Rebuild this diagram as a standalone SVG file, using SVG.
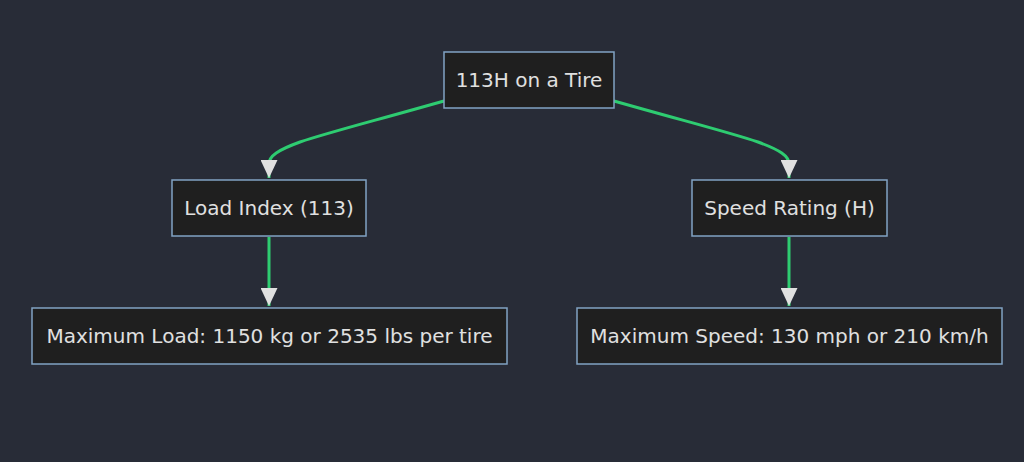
<svg xmlns="http://www.w3.org/2000/svg" width="1024" height="462" viewBox="0 0 1024 462">
<style>
.bg{fill:#282c37}
.node rect{fill:#1f1f1f;stroke:#81a3c4;stroke-width:1.5}
.node text{font-family:"DejaVu Sans",sans-serif;font-size:20px;fill:#e0e0e0;text-anchor:middle;dominant-baseline:central}
.edge{fill:none;stroke:#2ecc71;stroke-width:3}
</style>
<defs>
<marker id="arrow" viewBox="0 0 18 17" refX="18" refY="8.5" markerWidth="18" markerHeight="17" markerUnits="userSpaceOnUse" orient="auto">
<path d="M0,0 L18,8.5 L0,17 z" fill="#e0e0e0"/>
</marker>
</defs>
<rect class="bg" x="0" y="0" width="1024" height="462"/>
<g id="connectors">
<path class="edge" d="M444,101 C370,122 330,132 300,142 C278,150 269,156 269,164 L269,178" marker-end="url(#arrow)"/>
<path class="edge" d="M614,101 C688,122 728,132 758,142 C780,150 789,156 789,164 L789,178" marker-end="url(#arrow)"/>
<path class="edge" d="M269,237 L269,306" marker-end="url(#arrow)"/>
<path class="edge" d="M789,237 L789,306" marker-end="url(#arrow)"/>
</g>
<g id="node-tire" class="node"><rect x="444" y="52" width="170" height="56"/><text x="529" y="80">113H on a Tire</text></g>
<g id="node-load" class="node"><rect x="172" y="180" width="194" height="56"/><text x="269" y="208">Load Index (113)</text></g>
<g id="node-speed" class="node"><rect x="692" y="180" width="195" height="56"/><text x="789.5" y="208">Speed Rating (H)</text></g>
<g id="node-maxload" class="node"><rect x="32" y="308" width="475" height="56"/><text x="269.5" y="336">Maximum Load: 1150 kg or 2535 lbs per tire</text></g>
<g id="node-maxspeed" class="node"><rect x="577" y="308" width="425" height="56"/><text x="789.5" y="336">Maximum Speed: 130 mph or 210 km/h</text></g>
</svg>
